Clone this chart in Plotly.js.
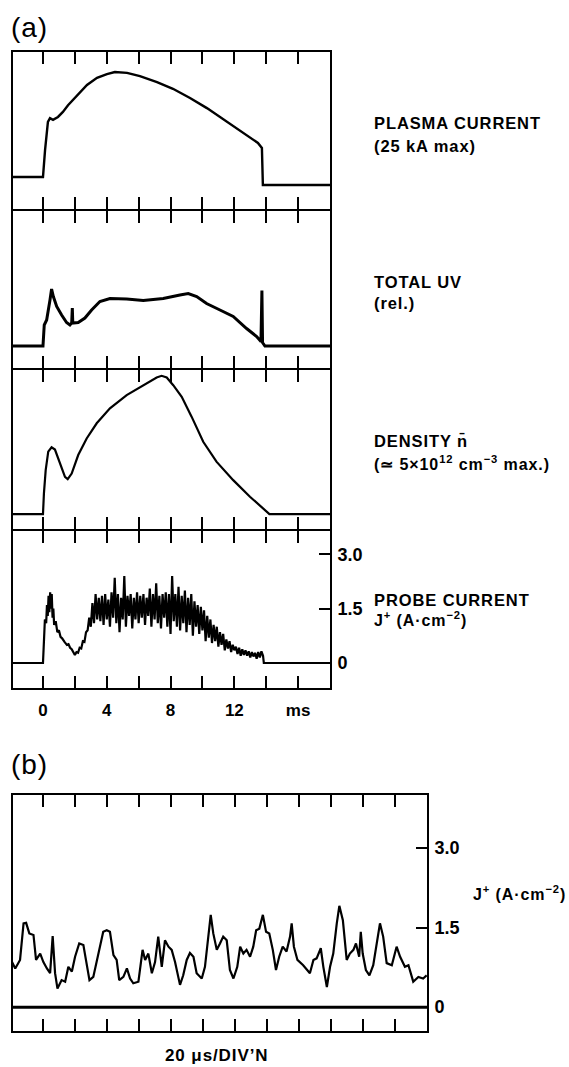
<!DOCTYPE html>
<html>
<head>
<meta charset="utf-8">
<script src="https://cdn.plot.ly/plotly-3.0.1.min.js"></script>
<style>
  html, body { margin: 0; padding: 0; background: #fff; }
  #chart { width: 569px; height: 1067px; }
  .annotation-text { letter-spacing: 0.9px; }
</style>
</head>
<body>
<div id="chart"></div>
<script>
// ---------------- DATA ----------------
// (a) time axis, ms
const tickTimesA = [0, 2, 4, 6, 8, 10, 12, 14, 16];
const tickLabelsA = ['0', '', '4', '', '8', '', '12', '', 'ms'];

// Plasma current (kA)
const plasmaT  = [-2, 0, 0.13, 0.31, 0.44, 0.63, 0.94, 1.25, 1.57, 1.88, 2.32, 2.76, 3.39, 4.01, 4.51, 5.27, 6.08, 7.15, 8.15, 9.22, 10.28, 11.54, 12.79, 13.48, 13.73, 13.79, 18];
const plasmaKA = [0, 0, 6.4, 13.1, 14.0, 13.6, 14.3, 15.5, 17.1, 18.3, 20.2, 21.9, 23.6, 24.5, 25.0, 24.8, 24.0, 22.6, 21.0, 18.8, 16.4, 13.1, 10.0, 8.1, 6.9, -1.9, -1.9];

// Total UV (relative)
const uvT   = [-2, 0, 0.08, 0.23, 0.44, 0.54, 0.65, 0.86, 1.17, 1.48, 1.69, 1.8, 1.84, 1.87, 2.21, 2.63, 3.05, 3.57, 4.2, 5.25, 6.29, 7.54, 8.59, 9.11, 9.64, 10.26, 11.1, 11.93, 12.77, 13.4, 13.67, 13.73, 13.77, 13.92, 18];
const uvRel = [0, 0, 0.42, 0.52, 0.92, 1.14, 0.99, 0.79, 0.62, 0.47, 0.42, 0.46, 0.76, 0.46, 0.47, 0.56, 0.72, 0.89, 0.95, 0.94, 0.91, 0.95, 1.02, 1.05, 0.99, 0.85, 0.72, 0.59, 0.35, 0.19, 0.09, 1.11, 0.07, 0, 0];

// Density (x 10^12 cm^-3)
const densT = [-2, 0, 0.06, 0.17, 0.33, 0.54, 0.75, 1.07, 1.38, 1.55, 1.8, 2.21, 2.74, 3.37, 4.2, 5.25, 6.29, 7.13, 7.44, 7.76, 8.17, 8.7, 9.32, 10.05, 10.88, 11.93, 12.98, 14.13, 14.2, 18];
const densN = [0, 0, 0.75, 1.59, 2.26, 2.42, 2.34, 1.84, 1.35, 1.27, 1.47, 2.14, 2.74, 3.29, 3.83, 4.31, 4.67, 4.95, 5.01, 4.95, 4.67, 4.25, 3.53, 2.62, 1.9, 1.23, 0.63, 0.03, 0, 0];

// Probe current J+ (A cm^-2)
const probeT = [
  -2, 0, 0.05, 0.12, 0.2, 0.25, 0.3, 0.35, 0.4, 0.45, 0.5, 0.55, 0.6, 0.65, 0.7, 0.8, 0.9, 1.0, 1.1, 1.2,
  1.35, 1.5, 1.6, 1.7, 1.8, 1.9, 2.0, 2.1, 2.2, 2.3, 2.4, 2.5, 2.6, 2.7,
  2.8, 2.9, 3.0, 3.1, 3.2, 3.3, 3.4, 3.5, 3.6, 3.7,
  3.8, 3.9, 4.0, 4.1, 4.2, 4.3, 4.4, 4.5, 4.6, 4.7,
  4.8, 4.9, 5.0, 5.1, 5.2, 5.3, 5.4, 5.5, 5.6, 5.7,
  5.8, 5.9, 6.0, 6.1, 6.2, 6.3, 6.4, 6.5, 6.6, 6.7,
  6.8, 6.9, 7.0, 7.1, 7.2, 7.3, 7.4, 7.5, 7.6, 7.7,
  7.8, 7.9, 8.0, 8.1, 8.2, 8.3, 8.4, 8.5, 8.6, 8.7,
  8.8, 8.9, 9.0, 9.1, 9.2, 9.3, 9.4, 9.5, 9.6, 9.7,
  9.8, 9.9, 10.0, 10.1, 10.2, 10.3, 10.4, 10.5, 10.6, 10.7,
  10.8, 10.9, 11.0, 11.1, 11.2, 11.3, 11.4, 11.5, 11.6, 11.7,
  11.8, 11.9, 12.0, 12.1, 12.2, 12.3, 12.4, 12.5, 12.6, 12.7,
  12.8, 12.9, 13.0, 13.1, 13.2, 13.3, 13.4, 13.5, 13.6, 13.7,
  13.8, 13.85, 18
];
const probeJ = [
  0, 0, 0.5, 1.2, 1.1, 1.6, 1.3, 1.85, 1.4, 1.95, 1.5, 1.9, 1.25, 1.5, 1.05, 1.15, 0.85, 0.9, 0.72, 0.68,
  0.58, 0.5, 0.52, 0.42, 0.38, 0.3, 0.22, 0.3, 0.28, 0.42, 0.4, 0.6, 0.58, 0.85,
  0.9, 1.25, 1.0, 1.65, 1.1, 1.9, 1.2, 1.8, 1.15, 1.85,
  1.05, 1.9, 1.2, 1.75, 1.0, 1.95, 1.25, 2.35, 1.1, 1.9,
  0.85, 1.8, 1.2, 2.4, 1.0, 1.85, 1.3, 1.9, 0.95, 1.8,
  1.2, 1.95, 1.1, 1.85, 1.25, 1.9, 1.05, 1.8, 1.3, 2.05,
  1.0, 1.9, 1.2, 2.2, 1.1, 1.85, 0.95, 1.9, 1.25, 1.95,
  1.0, 1.9, 0.8, 2.4, 1.15, 1.9, 1.0, 2.1, 0.9, 1.85,
  1.1, 2.0, 0.85, 1.8, 1.05, 1.9, 0.75, 1.7, 1.0, 1.6,
  0.8, 1.55, 0.9, 1.45, 0.6, 1.3, 0.7, 1.2, 0.55, 1.05,
  0.6, 1.0, 0.45, 0.85, 0.5, 0.8, 0.35, 0.65, 0.4, 0.6,
  0.3, 0.5, 0.35, 0.45, 0.25, 0.42, 0.2, 0.38, 0.22, 0.35,
  0.2, 0.32, 0.15, 0.3, 0.18, 0.28, 0.12, 0.3, 0.15, 0.32,
  0.2, 0, 0
];
const probeTickVals = [0, 1.5, 3];
const probeTickText = ['0', '1.5', '3.0'];

// (b) fast trace, x in divisions (20 us/div)
const tickDivsB = [0, 1, 2, 3, 4, 5, 6, 7, 8, 9, 10, 11];
const sigDiv = [-0.97, -0.87, -0.72, -0.61, -0.53, -0.43, -0.30, -0.22, -0.09, 0.01,
  0.12, 0.22, 0.30, 0.375, 0.45, 0.58, 0.69, 0.79, 0.90, 1.0,
  1.13, 1.26, 1.34, 1.45, 1.57, 1.68, 1.78, 1.88, 1.99, 2.09,
  2.20, 2.30, 2.38, 2.51, 2.62, 2.72, 2.82, 2.98, 3.11, 3.19,
  3.29, 3.40, 3.5, 3.60, 3.71, 3.81, 3.92, 4.02, 4.125, 4.28,
  4.38, 4.49, 4.59, 4.70, 4.80, 4.96, 5.06, 5.17, 5.24, 5.32,
  5.43, 5.53, 5.63, 5.74, 5.84, 5.95, 6.07, 6.16, 6.26, 6.36,
  6.47, 6.57, 6.66, 6.76, 6.87, 6.97, 7.07, 7.18, 7.28, 7.38,
  7.49, 7.61, 7.72, 7.77, 7.84, 7.95, 8.13, 8.34, 8.45, 8.55,
  8.68, 8.76, 8.87, 8.97, 9.07, 9.18, 9.26, 9.37, 9.49, 9.59,
  9.70, 9.78, 9.88, 9.93, 9.99, 10.09, 10.20, 10.32, 10.45, 10.53,
  10.63, 10.74, 10.90, 11.05, 11.16, 11.31, 11.42, 11.5, 11.57, 11.73,
  11.88, 11.99];
const sigJ = [0.85, 0.73, 0.89, 1.58, 1.59, 1.39, 1.36, 0.89, 1.01, 0.85,
  0.73, 0.64, 1.34, 0.64, 0.35, 0.51, 0.48, 0.76, 0.67, 0.95,
  1.20, 1.17, 0.89, 0.51, 0.57, 0.89, 1.14, 1.42, 1.45, 1.42,
  0.98, 0.89, 0.51, 0.57, 0.73, 0.54, 0.45, 0.48, 1.08, 0.89,
  1.01, 0.64, 0.85, 1.33, 0.76, 1.26, 1.14, 1.08, 0.85, 0.42,
  0.60, 0.89, 1.02, 0.95, 0.64, 0.54, 0.76, 1.33, 1.74, 1.39,
  1.08, 1.20, 1.33, 1.26, 0.70, 0.54, 0.76, 1.14, 1.01, 1.08,
  0.95, 1.14, 1.45, 1.48, 1.74, 1.42, 1.39, 1.08, 0.70, 0.95,
  1.14, 1.05, 1.33, 1.58, 1.14, 0.89, 0.79, 0.64, 0.89, 0.92,
  1.11, 0.76, 0.38, 0.76, 1.01, 1.58, 1.91, 1.64, 0.89, 1.01,
  1.08, 1.20, 0.95, 1.42, 1.01, 0.70, 0.60, 0.79, 1.26, 1.58,
  1.33, 0.83, 0.79, 1.14, 0.95, 0.76, 0.79, 0.60, 0.48, 0.57,
  0.54, 0.60];
const zeroDiv = [-1, 12];
const zeroJ = [0, 0];

// ---------------- LAYOUT ----------------
const W = 569, H = 1067;
const FONT = 'Liberation Sans, Arial, Helvetica, sans-serif';
const yd = (top, bot) => [1 - bot / H, 1 - top / H];
const xd = (l, r) => [l / W, r / W];

function xAxis(domain, range, anchor, tickvals, showLabels, ticktext) {
  return {
    domain, range, anchor,
    tickmode: 'array', tickvals, ticktext: ticktext || tickvals.map(String),
    ticks: 'inside', ticklen: 12, tickwidth: 1.7, tickcolor: '#000',
    showline: true, linewidth: 2, linecolor: '#000', mirror: 'ticks',
    showgrid: false, zeroline: false, showticklabels: !!showLabels,
    tickfont: { family: FONT, size: 17, color: '#000', weight: 'bold' },
    ticklabelstandoff: 6
  };
}
function yAxis(domain, range, anchor, extra) {
  return Object.assign({
    domain, range, anchor,
    showline: true, linewidth: 2, linecolor: '#000', mirror: true,
    showgrid: false, zeroline: false, showticklabels: false, ticks: ''
  }, extra || {});
}
function rightTicks(vals, text) {
  return {
    side: 'right', tickmode: 'array', tickvals: vals, ticktext: text,
    ticks: 'inside', ticklen: 11, tickwidth: 1.7, tickcolor: '#000',
    showticklabels: true, tickfont: { family: FONT, size: 18, color: '#000', weight: 'bold' },
    ticklabelstandoff: 2
  };
}

const XA = xd(13, 330);
const XB = xd(13, 427);

const layout = {
  width: W, height: H,
  margin: { l: 0, r: 0, t: 0, b: 0, pad: 0 },
  paper_bgcolor: '#fff', plot_bgcolor: '#fff',
  showlegend: false,
  font: { family: FONT, color: '#000' },
  xaxis:  xAxis(XA, [-1.88, 18.0], 'y',  tickTimesA, false),
  xaxis2: xAxis(XA, [-1.88, 18.0], 'y2', tickTimesA, false),
  xaxis3: xAxis(XA, [-1.88, 18.0], 'y3', tickTimesA, false),
  xaxis4: xAxis(XA, [-1.88, 18.0], 'y4', tickTimesA, true, tickLabelsA),
  xaxis5: xAxis(XB, [-0.94, 12.0], 'y5', tickDivsB, false),
  yaxis:  yAxis(yd(52, 209),  [-7.62, 29.76], 'x'),
  yaxis2: yAxis(yd(211, 368), [-0.44, 2.70], 'x2'),
  yaxis3: yAxis(yd(370, 529), [-0.54, 5.22], 'x3'),
  yaxis4: yAxis(yd(531, 688), [-0.69, 3.64], 'x4', rightTicks(probeTickVals, probeTickText)),
  yaxis5: yAxis(yd(795, 1031), [-0.45, 4.0], 'x5', rightTicks(probeTickVals, probeTickText)),
  annotations: []
};

function label(text, px, py, size, extra, weight) {
  layout.annotations.push(Object.assign({
    text, xref: 'paper', yref: 'paper', x: px / W, y: 1 - py / H,
    xanchor: 'left', yanchor: 'middle', showarrow: false,
    font: { family: FONT, size: size, color: '#000', weight: weight || 'bold' }
  }, extra || {}));
}
label('(a)', 9, 28, 28, null, 'normal');
label('(b)', 9, 764, 28, null, 'normal');
label('PLASMA CURRENT', 372, 123, 16.5);
label('(25 kA max)', 372, 146, 16.5);
label('TOTAL UV', 372, 282, 16.5);
label('(rel.)', 372, 303, 16.5);
label('DENSITY n\u0304', 372, 441, 16.5);
label('(\u2243 5\u00d710<sup>12</sup> cm<sup>\u22123</sup> max.)', 372, 463, 16);
label('PROBE CURRENT', 372, 600, 16.5);
label('J<sup>+</sup> (A\u00b7cm<sup>\u22122</sup>)', 372, 619, 16);
label('J<sup>+</sup> (A\u00b7cm<sup>\u22122</sup>)', 471, 893, 16);
label('20 \u03bcs/DIV\u2019N', 216, 1055, 17, { xanchor: 'center' });

// ---------------- TRACES ----------------
const line = (w) => ({ color: '#000', width: w });
const traces = [
  { x: plasmaT, y: plasmaKA, xaxis: 'x',  yaxis: 'y',  mode: 'lines', line: line(2.4), hoverinfo: 'skip' },
  { x: uvT,     y: uvRel,    xaxis: 'x2', yaxis: 'y2', mode: 'lines', line: line(3.0), hoverinfo: 'skip' },
  { x: densT,   y: densN,    xaxis: 'x3', yaxis: 'y3', mode: 'lines', line: line(2.2), hoverinfo: 'skip' },
  { x: probeT,  y: probeJ,   xaxis: 'x4', yaxis: 'y4', mode: 'lines', line: line(2.2), hoverinfo: 'skip' },
  { x: zeroDiv, y: zeroJ,    xaxis: 'x5', yaxis: 'y5', mode: 'lines', line: line(3.0), hoverinfo: 'skip' },
  { x: sigDiv,  y: sigJ,     xaxis: 'x5', yaxis: 'y5', mode: 'lines', line: line(2.2), hoverinfo: 'skip' }
];

Plotly.newPlot('chart', traces, layout, { displayModeBar: false });
</script>
</body>
</html>
